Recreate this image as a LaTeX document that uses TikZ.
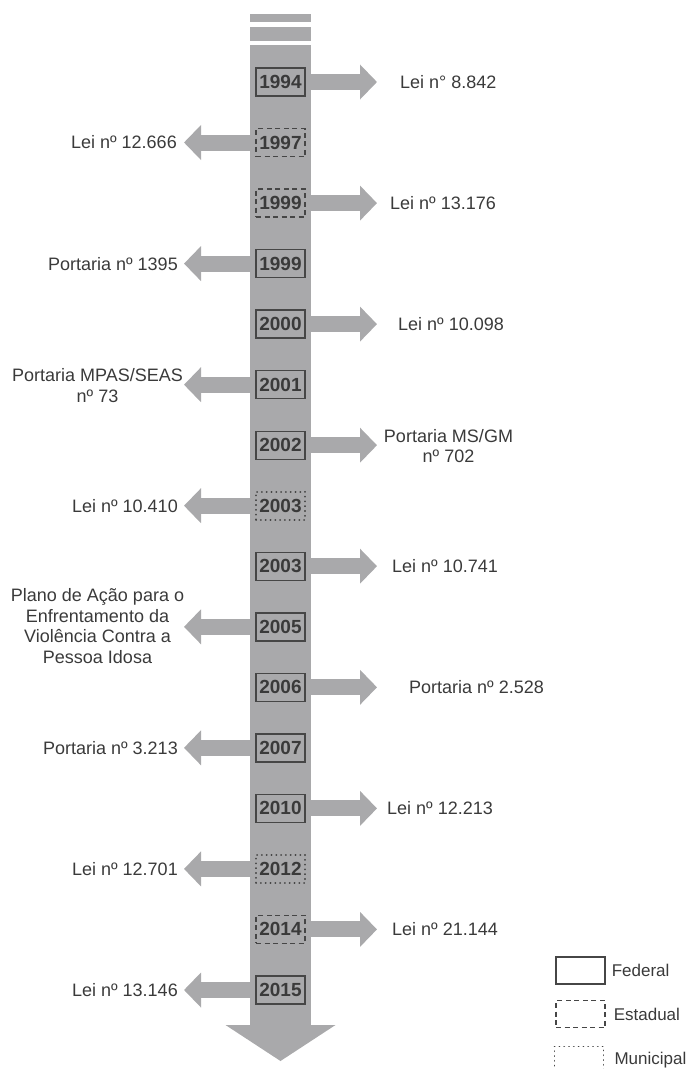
\documentclass[tikz,border=0pt]{standalone}
\usepackage{fontspec}
\setmainfont{Liberation Sans}
\usetikzlibrary{arrows.meta, positioning, backgrounds}

\definecolor{cinzabarra}{RGB}{169,169,171}
\definecolor{cinzatexto}{RGB}{58,58,58}
\definecolor{cinzaborda}{RGB}{70,70,70}

\begin{document}
\begin{tikzpicture}[
		x=1pt, y=-1pt,
		% caixas dos anos (o traço indica a esfera)
		ano/.style = {draw=cinzaborda, line width=1.4pt, fill=cinzabarra, minimum width=49pt, minimum height=28pt, inner sep=0pt, text=cinzatexto, font=\fontsize{19}{19}\selectfont\bfseries},
		federal/.style = {ano},
		estadual/.style = {ano, dash pattern=on 5pt off 3.5pt},
		municipal/.style = {ano, line cap=round, dash pattern=on 0.2pt off 4.6pt, line width=1.8pt},
		legenda/.style = {fill=white, line width=1.2pt, minimum height=27pt},
		% setas largas que saem da linha do tempo
		seta/.style = {draw=cinzabarra, line width=16pt, -{Triangle[length=17pt, width=34pt]}},
		texto/.style = {inner sep=0pt, align=center, text=cinzatexto, font=\fontsize{18}{20.5}\selectfont},
		rotulo/.style = {inner sep=0pt, text=cinzatexto, font=\fontsize{17}{17}\selectfont}
		]
		\clip (0,0) rectangle (690,1069);
		
		% --- ANOS ---
		\node [federal]   (a1994)  at (280.5,82)    {1994};
		\node [estadual]  (a1997)  at (280.5,142.5) {1997};
		\node [estadual]  (a1999e) at (280.5,203.1) {1999};
		\node [federal]   (a1999)  at (280.5,263.6) {1999};
		\node [federal]   (a2000)  at (280.5,324.1) {2000};
		\node [federal]   (a2001)  at (280.5,384.7) {2001};
		\node [federal]   (a2002)  at (280.5,445.2) {2002};
		\node [municipal] (a2003m) at (280.5,505.7) {2003};
		\node [federal]   (a2003)  at (280.5,566.2) {2003};
		\node [federal]   (a2005)  at (280.5,626.8) {2005};
		\node [federal]   (a2006)  at (280.5,687.3) {2006};
		\node [federal]   (a2007)  at (280.5,747.8) {2007};
		\node [federal]   (a2010)  at (280.5,808.4) {2010};
		\node [municipal] (a2012)  at (280.5,868.9) {2012};
		\node [estadual]  (a2014)  at (280.5,929.4) {2014};
		\node [federal]   (a2015)  at (280.5,990)   {2015};
		
		% --- PONTAS DAS SETAS ---
		\coordinate (p1994)  at (377,82);
		\coordinate (p1997)  at (184,142.5);
		\coordinate (p1999e) at (377,203.1);
		\coordinate (p1999)  at (184,263.6);
		\coordinate (p2000)  at (377,324.1);
		\coordinate (p2001)  at (184,384.7);
		\coordinate (p2002)  at (377,445.2);
		\coordinate (p2003m) at (184,505.7);
		\coordinate (p2003)  at (377,566.2);
		\coordinate (p2005)  at (184,626.8);
		\coordinate (p2006)  at (377,687.3);
		\coordinate (p2007)  at (184,747.8);
		\coordinate (p2010)  at (377,808.4);
		\coordinate (p2012)  at (184,868.9);
		\coordinate (p2014)  at (377,929.4);
		\coordinate (p2015)  at (184,990);
		
		% --- LEIS E PORTARIAS ---
		\node [texto, anchor=west] (l1994)  at (400,82)    {Lei n° 8.842};
		\node [texto, anchor=east] (l1997)  at (177,142.5) {Lei nº 12.666};
		\node [texto, anchor=west] (l1999e) at (390,203.1) {Lei nº 13.176};
		\node [texto, anchor=east] (l1999)  at (178,263.6) {Portaria nº 1395};
		\node [texto, anchor=west] (l2000)  at (398,324.1) {Lei nº 10.098};
		\node [texto]              (l2001)  at (97.5,385.5) {Portaria MPAS/SEAS\\nº 73};
		\node [texto]              (l2002)  at (448.5,446) {Portaria MS/GM\\nº 702};
		\node [texto, anchor=east] (l2003m) at (178,505.7) {Lei nº 10.410};
		\node [texto, anchor=west] (l2003)  at (392,566.2) {Lei nº 10.741};
		\node [texto]              (l2005)  at (97.5,626) {Plano de Ação para o\\Enfrentamento da\\Violência Contra a\\Pessoa Idosa};
		\node [texto, anchor=west] (l2006)  at (409,687.3) {Portaria nº 2.528};
		\node [texto, anchor=east] (l2007)  at (178,747.8) {Portaria nº 3.213};
		\node [texto, anchor=west] (l2010)  at (387,808.4) {Lei nº 12.213};
		\node [texto, anchor=east] (l2012)  at (178,868.9) {Lei nº 12.701};
		\node [texto, anchor=west] (l2014)  at (392,929.4) {Lei nº 21.144};
		\node [texto, anchor=east] (l2015)  at (178,990)   {Lei nº 13.146};
		
		% --- CAPA DE FUNDO: linha do tempo e setas ---
		\begin{scope}[on background layer]
			\fill [cinzabarra] (250,14) rectangle (311,22);
			\fill [cinzabarra] (250,27) rectangle (311,41);
			\fill [cinzabarra] (250,45) rectangle (311,1025.5);
			\fill [cinzabarra] (225.5,1025) -- (335.5,1025) -- (280.5,1061) -- cycle;
			
			\draw [seta] (a1994.east)  -- (p1994);
			\draw [seta] (a1997.west)  -- (p1997);
			\draw [seta] (a1999e.east) -- (p1999e);
			\draw [seta] (a1999.west)  -- (p1999);
			\draw [seta] (a2000.east)  -- (p2000);
			\draw [seta] (a2001.west)  -- (p2001);
			\draw [seta] (a2002.east)  -- (p2002);
			\draw [seta] (a2003m.west) -- (p2003m);
			\draw [seta] (a2003.east)  -- (p2003);
			\draw [seta] (a2005.west)  -- (p2005);
			\draw [seta] (a2006.east)  -- (p2006);
			\draw [seta] (a2007.west)  -- (p2007);
			\draw [seta] (a2010.east)  -- (p2010);
			\draw [seta] (a2012.west)  -- (p2012);
			\draw [seta] (a2014.east)  -- (p2014);
			\draw [seta] (a2015.west)  -- (p2015);
		\end{scope}
		
		% --- LEGENDA ---
		\node [federal, legenda]   (lfed) at (580.5,970.5) {};
		\node [estadual, legenda]  (lest) at (580.5,1014)  {};
		\node [municipal, legenda, line width=1.6pt] (lmun) at (579,1060) {};
		\node [rotulo, right=6pt of lfed] {Federal};
		\node [rotulo, right=8pt of lest] {Estadual};
		\node [rotulo, right=10pt of lmun] {Municipal};
		
	\end{tikzpicture}
\end{document}
